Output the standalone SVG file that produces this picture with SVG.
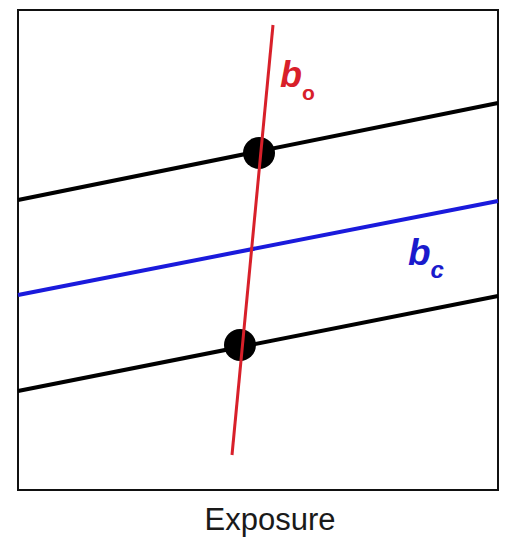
<svg xmlns="http://www.w3.org/2000/svg" width="508" height="542" viewBox="0 0 508 542">
<style>
.frame{fill:none;stroke:#111;stroke-width:2}
.blk{stroke:#000;stroke-width:4;fill:none}
.lbl{font-family:"Liberation Sans",Arial,sans-serif;font-weight:bold;font-style:italic}
</style>
<rect width="508" height="542" fill="#fff"/>
<rect class="frame" x="18" y="10" width="480" height="480"/>
<g id="connectors">
<line id="top-line" class="blk" x1="18" y1="200" x2="498" y2="103"/>
<line id="bottom-line" class="blk" x1="18" y1="391" x2="498" y2="296"/>
<line id="blue-line" x1="18" y1="295" x2="498" y2="201" stroke="#1a1adc" stroke-width="4"/>
</g>
<g id="node-top"><circle cx="259" cy="153" r="16" fill="#000"/></g>
<g id="node-bottom"><circle cx="240" cy="345" r="16" fill="#000"/></g>
<g id="red-line"><line x1="273" y1="25" x2="232" y2="455" stroke="#d8202a" stroke-width="3"/></g>
<g id="label-bo"><text class="lbl" x="280" y="87" font-size="36" fill="#d8202a">b<tspan font-size="21" dy="13" font-style="normal">o</tspan></text></g>
<g id="label-bc"><text class="lbl" x="408" y="265" font-size="37" fill="#1a1acc">b<tspan font-size="24" dy="13">c</tspan></text></g>
<g id="axis-label"><text x="270" y="530" font-size="31" text-anchor="middle" font-family="'Liberation Sans',Arial,sans-serif" fill="#1a1a1a">Exposure</text></g>
</svg>
